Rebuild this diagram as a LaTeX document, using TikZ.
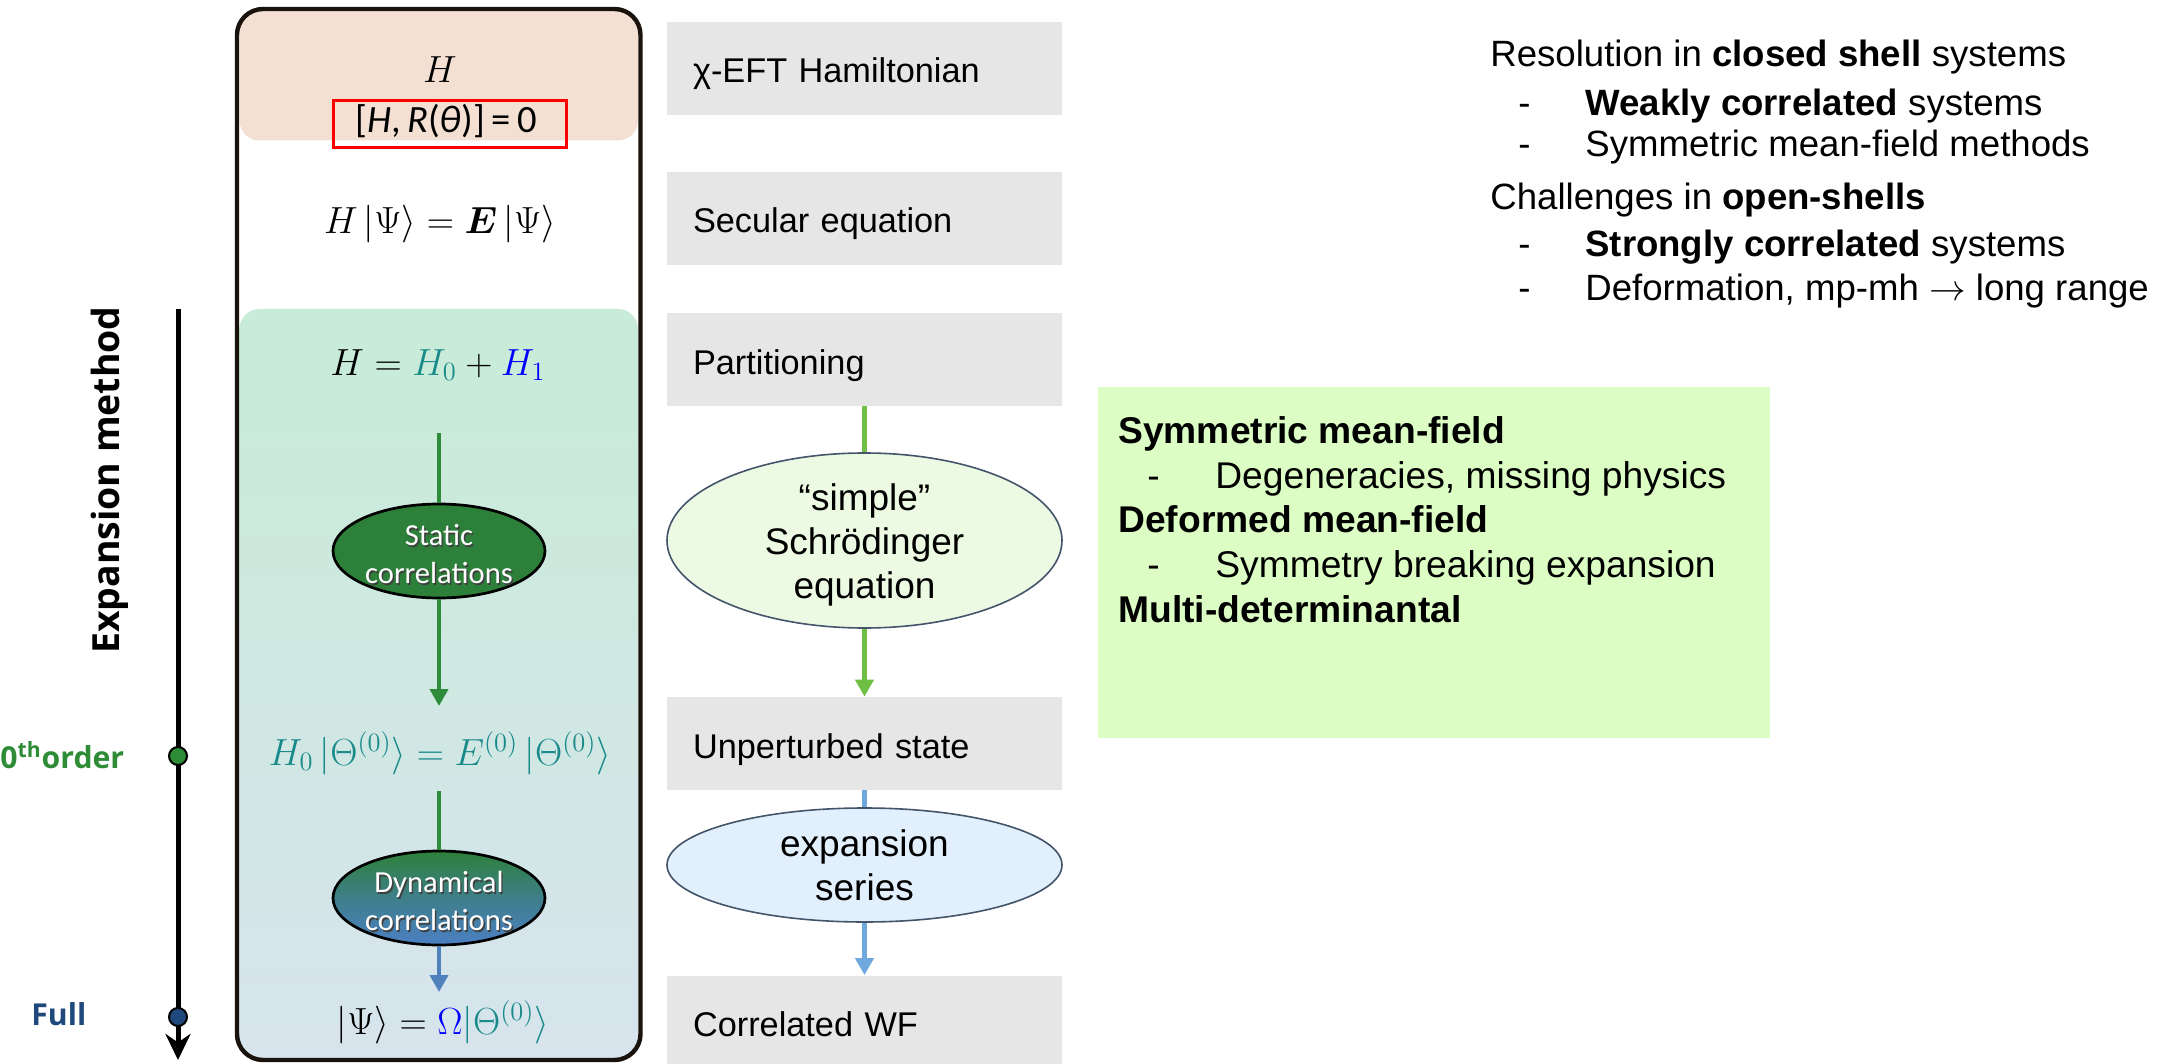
\RequirePackage{fix-cm}
\documentclass[tikz,border=0pt]{standalone}
\usepackage{amsmath}
\usepackage{fontspec}
\setmainfont{Liberation Sans}
\newfontfamily\calib{Carlito}
\newfontfamily\osans{Open Sans}
\usetikzlibrary{arrows.meta,shapes.geometric,calc}

\definecolor{framec}{HTML}{1A120C}
\definecolor{peachc}{HTML}{F3E0D2}
\definecolor{mintc}{RGB}{200,236,215}
\definecolor{bluegrayc}{RGB}{216,227,238}
\definecolor{grayboxc}{HTML}{E6E6E6}
\definecolor{schrc}{HTML}{EDFAE3}
\definecolor{expc}{HTML}{E2F0FD}
\definecolor{ellline}{HTML}{44546A}
\definecolor{flowgreen}{HTML}{6FBF45}
\definecolor{flowblue}{HTML}{6FA8DC}
\definecolor{limec}{HTML}{DCFDC4}
\definecolor{darkgreen}{HTML}{2E8B3A}
\definecolor{statc}{HTML}{2D8039}
\definecolor{midc}{HTML}{3E7F8A}
\definecolor{dynblue}{HTML}{4B7FC4}
\definecolor{arrowblue}{HTML}{4F81BD}
\definecolor{fullblue}{HTML}{1F497D}
\definecolor{mteal}{RGB}{25,138,138}
\definecolor{orderg}{HTML}{2E8B36}

% white text with a soft dark drop shadow
\newcommand\txtshadow[1]{\makebox[0pt][l]{\hspace{0.7pt}\raisebox{-0.7pt}{\textcolor{black!75}{#1}}}#1}

\begin{document}
\begin{tikzpicture}[x=0.5pt,y=-0.5pt,
  graybox/.style={fill=grayboxc, minimum width=197.5pt, minimum height=46.5pt,
    text width=171.5pt, inner xsep=13pt, inner ysep=0pt, align=left,
    text height=14.5pt, text depth=0pt, font=\fontsize{17.15}{20}\selectfont},
  flowell/.style={ellipse, draw=ellline, line width=0.8pt, inner sep=0pt, minimum width=197.5pt},
  elltext/.style={align=center, inner sep=0pt, font=\fontsize{18.5}{22}\selectfont},
  correll/.style={ellipse, draw=black, line width=1.35pt, minimum width=106pt,
    minimum height=47pt, inner sep=0pt},
  corrtext/.style={align=center, inner sep=0pt, text=white, font=\calib\fontsize{15.3}{19}\selectfont},
  mathnode/.style={anchor=base, inner sep=0pt, font=\fontsize{18.9}{22}\selectfont},
  gconn/.style={draw=darkgreen, line width=2pt},
  bconn/.style={draw=arrowblue, line width=2pt},
  fgreen/.style={draw=flowgreen, line width=2.5pt},
  fblue/.style={draw=flowblue, line width=2.5pt},
  tip/.style={-{Triangle[length=8.5pt,width=9pt]}},
  axisdot/.style={circle, draw=black, line width=1pt, minimum size=9pt, inner sep=0pt},
  sidelabel/.style={anchor=base west, inner sep=0pt, font=\osans\bfseries\fontsize{15.1}{18}\selectfont},
  mfline/.style={anchor=base west, inner sep=0pt, font=\fontsize{18.6}{22}\selectfont},
  rtline/.style={anchor=base west, inner sep=0pt, font=\fontsize{18.3}{22}\selectfont}]

\useasboundingbox (0,0) rectangle (2169,1064);
\fill[white] (0,0) rectangle (2169,1064);

% ---------- left frame with its coloured bands ----------
\begin{scope}
  \clip[rounded corners=13pt] (237,9) rectangle (640.5,1060);
  \fill[peachc, rounded corners=10pt] (239.5,-40) rectangle (638,140.5);
  \shade[top color=mintc, bottom color=bluegrayc, rounded corners=10pt] (239.5,309) rectangle (638,1100);
\end{scope}
\draw[framec, line width=2.2pt, rounded corners=13pt] (237,9) rectangle (640.5,1060);

% equations in the frame
\node[mathnode] (ham) at (440,83) {$H$};
\node[anchor=base, inner sep=0pt, font=\calib\fontsize{19.3}{22}\selectfont] (comm) at (446,133)
  {[\textit{H},\,\textit{R}(\textit{θ})]\,=\,0};
\node[draw=red, line width=1.5pt, minimum width=116.5pt, minimum height=23.5pt, inner sep=0pt] (redbox) at (450,124) {};
\node[mathnode] (secular) at (440,234) {$H\,|\Psi\rangle = \boldsymbol{E}\,|\Psi\rangle$};
\node[mathnode] (split) at (438,375) {$H = {\color{mteal}H_0} + {\color{blue}H_1}$};

\node[correll, fill=statc] (static) at (439,551) {};
\node[corrtext] (stattxt) at (439,555) {\txtshadow{Static}\\\txtshadow{correlations}};

\node[mathnode, text=mteal] (zeroeq) at (440,765)
  {$H_0\,|\Theta^{(0)}\rangle = E^{(0)}\,|\Theta^{(0)}\rangle$};

\node[correll, top color=statc, bottom color=dynblue, middle color=midc] (dyn) at (439,898) {};
\node[corrtext] (dyntxt) at (439,902) {\txtshadow{Dynamical}\\\txtshadow{correlations}};

\node[mathnode] (final) at (443,1034)
  {$|\Psi\rangle = {\color{blue}\Omega}{\color{mteal}|\Theta^{(0)}\rangle}$};

% connectors in the frame
\coordinate (s1) at (439,433);
\coordinate (s2) at (439,706);
\coordinate (s3) at (439,791);
\coordinate (s4) at (439,992);
\draw[gconn] (s1) -- (static.north);
\draw[gconn, tip] (static.south) -- (s2);
\draw[gconn] (s3) -- (dyn.north);
\draw[bconn, tip] (dyn.south) -- (s4);

% ---------- expansion axis ----------
\coordinate (axtop) at (178,309);
\coordinate (axend) at (178,1060);
\draw[black, line width=2.5pt, -{Stealth[length=13pt,width=12.5pt]}] (axtop) -- (axend);
\node[axisdot, fill=orderg] (dot0) at (178,756) {};
\node[axisdot, fill=fullblue] (dotfull) at (178,1017) {};
\node[anchor=base, rotate=90, inner sep=0pt, font=\osans\bfseries\fontsize{18.7}{22}\selectfont] (axlabel)
  at (119.3,480) {Expansion method};
\node[sidelabel, text=orderg] (ordlabel) at (0,768) {0\textsuperscript{th}order};
\node[sidelabel, text=fullblue] (fulllabel) at (31,1025) {Full};

% ---------- step column ----------
\node[graybox] (hamstep) at (864.5,68.5) {χ-EFT Hamiltonian};
\node[graybox] (secstep) at (864.5,218.5) {Secular equation};
\node[graybox] (part) at (864.5,359.5) {Partitioning};
\node[flowell, fill=schrc, minimum height=87.5pt] (schr) at (864.5,540.5) {};
\node[elltext] (schrtxt) at (864.5,544.5) {“simple”\\Schrödinger\\equation};
\node[graybox] (unpert) at (864.5,743.5) {Unperturbed state};
\node[flowell, fill=expc, minimum height=57pt] (expser) at (864.5,865) {};
\node[elltext] (exptxt) at (864.5,865) {expansion\\series};
\node[graybox] (corrwf) at (864.5,1022) {Correlated WF};

\draw[fgreen] (part.south) -- (schr.north);
\draw[fgreen, tip] (schr.south) -- (unpert.north);
\draw[fblue] (unpert.south) -- (expser.north);
\draw[fblue, tip] (expser.south) -- (corrwf.north);

% ---------- mean-field box ----------
\node[fill=limec, minimum width=336pt, minimum height=175.5pt, inner sep=0pt, anchor=north west] (mfbox) at (1098,387) {};
\node[mfline] (mf1) at (1118,443) {\textbf{Symmetric mean-field}};
\node[mfline] (mf2) at (1147,488) {\makebox[34pt][l]{-}Degeneracies, missing physics};
\node[mfline] (mf3) at (1118,532) {\textbf{Deformed mean-field}};
\node[mfline] (mf4) at (1147,577) {\makebox[34pt][l]{-}Symmetry breaking expansion};
\node[mfline] (mf5) at (1118,622) {\textbf{Multi-determinantal}};

% ---------- closed / open shell notes ----------
\node[rtline] (rt1) at (1490,67) {Resolution in \textbf{closed shell} systems};
\node[rtline] (rt2) at (1518,116) {\makebox[33.5pt][l]{-}\textbf{Weakly correlated} systems};
\node[rtline] (rt3) at (1518,157) {\makebox[33.5pt][l]{-}Symmetric mean-field methods};
\node[rtline] (rt4) at (1490,210) {Challenges in \textbf{open-shells}};
\node[rtline] (rt5) at (1518,257) {\makebox[33.5pt][l]{-}\textbf{Strongly correlated} systems};
\node[rtline] (rt6) at (1518,300) {\makebox[33.5pt][l]{-}Deformation, mp-mh $\rightarrow$ long range};

\end{tikzpicture}
\end{document}
